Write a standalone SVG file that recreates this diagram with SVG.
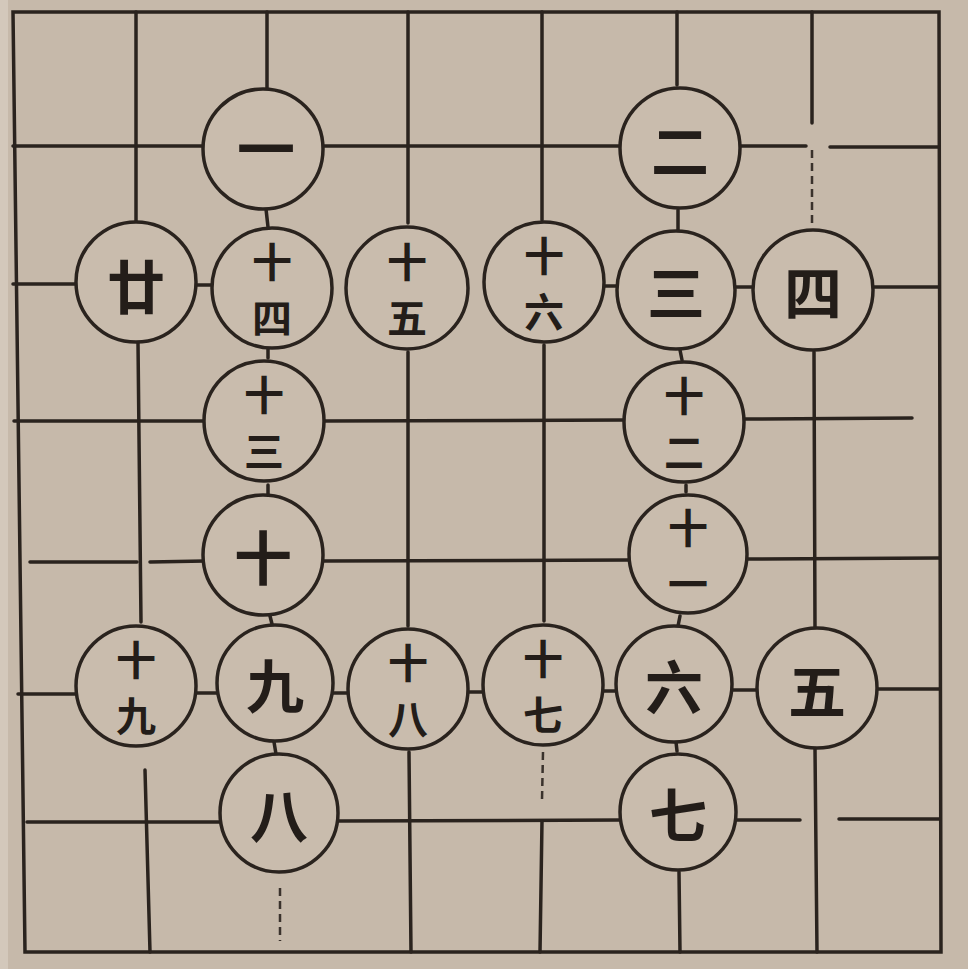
<svg xmlns="http://www.w3.org/2000/svg" width="968" height="969" viewBox="0 0 968 969">
<style>
.ln{stroke:#2a231e;stroke-width:3.5;fill:none;stroke-linecap:round}
.fa{stroke:#3a322c;stroke-width:2.5;fill:none;stroke-dasharray:8 5}
.nd circle{fill:#c9bcad;stroke:#2a231e;stroke-width:3.5}
.nd text{font-family:"Noto Sans CJK SC","Noto Sans CJK TC",sans-serif;font-weight:700;fill:#231d19;text-anchor:middle;dominant-baseline:central}
.s{font-size:58px}
.d{font-size:40px}
</style>
<rect x="0" y="0" width="968" height="969" fill="#c6b9aa"/>
<rect x="0" y="0" width="8" height="969" fill="#d3c8bb"/>
<g id="connectors">
<path class="ln" d="M13,12 L939,12 L941,952 L25,952 Z"/>
<path class="ln" d="M13,146 L806,146 M830,147 L939,147"/>
<path class="ln" d="M13,284 L80,284 M193,285 L215,285 M602,286 L619,286 M732,287 L752,287 M874,287 L939,287"/>
<path class="ln" d="M14,421 L205,421 M323,421 L624,420 M744,419 L912,418"/>
<path class="ln" d="M30,562 L137,562 M150,562 L205,561 M323,561 L629,560 M747,559 L939,558"/>
<path class="ln" d="M18,694 L78,694 M193,693 L217,693 M333,693 L350,693 M467,692 L484,692 M602,691 L617,691 M732,690 L759,690 M876,689 L939,689"/>
<path class="ln" d="M27,822 L220,822 M338,821 L621,820 M734,820 L800,820 M839,819 L939,819"/>
<path class="ln" d="M136,12 L136,222 M138,343 L141,622 M145,770 L150,952"/>
<path class="ln" d="M267,12 L267,88 M266,209 L268,227 M268,348 L268,358 M268,485 L268,494 M270,616 L272,624 M274,742 L276,754"/>
<path class="fa" d="M280,888 L280,941"/>
<path class="ln" d="M408,12 L408,223 M408,352 L408,626 M409,752 L411,952"/>
<path class="ln" d="M542,12 L542,220 M544,345 L544,621 M542,821 L540,952"/>
<path class="fa" d="M543,752 L542,800"/>
<path class="ln" d="M677,12 L677,85 M678,210 L678,230 M680,350 L682,360 M686,485 L686,492 M680,616 L678,626 M676,742 L677,751 M679,872 L680,952"/>
<path class="ln" d="M812,12 L812,123 M814,352 L815,627 M815,749 L817,952"/>
<path class="fa" d="M812,150 L812,226"/>
</g>
<g id="n1" class="nd"><circle cx="263" cy="149" r="60"/><text class="s" x="266" y="146">一</text></g>
<g id="n2" class="nd"><circle cx="680" cy="148" r="60"/><text class="s" x="680" y="148">二</text></g>
<g id="n3" class="nd"><circle cx="676" cy="290" r="59"/><text class="s" x="676" y="290">三</text></g>
<g id="n4" class="nd"><circle cx="813" cy="290" r="60"/><text class="s" x="813" y="290">四</text></g>
<g id="n5" class="nd"><circle cx="817" cy="688" r="60"/><text class="s" x="817" y="688">五</text></g>
<g id="n6" class="nd"><circle cx="674" cy="684" r="58"/><text class="s" x="674" y="684">六</text></g>
<g id="n7" class="nd"><circle cx="678" cy="812" r="58"/><text class="s" x="678" y="812">七</text></g>
<g id="n8" class="nd"><circle cx="279" cy="813" r="59"/><text class="s" x="279" y="813">八</text></g>
<g id="n9" class="nd"><circle cx="275" cy="683" r="58"/><text class="s" x="275" y="683">九</text></g>
<g id="n10" class="nd"><circle cx="263" cy="555" r="60"/><text class="s" x="263" y="555">十</text></g>
<g id="n11" class="nd"><circle cx="688" cy="554" r="59"/><text class="d" x="688" y="526">十</text><text class="d" x="688" y="582">一</text></g>
<g id="n12" class="nd"><circle cx="684" cy="422" r="60"/><text class="d" x="684" y="394">十</text><text class="d" x="684" y="450">二</text></g>
<g id="n13" class="nd"><circle cx="264" cy="421" r="60"/><text class="d" x="264" y="393">十</text><text class="d" x="264" y="449">三</text></g>
<g id="n14" class="nd"><circle cx="272" cy="288" r="60"/><text class="d" x="272" y="260">十</text><text class="d" x="272" y="316">四</text></g>
<g id="n15" class="nd"><circle cx="407" cy="288" r="61"/><text class="d" x="407" y="260">十</text><text class="d" x="407" y="316">五</text></g>
<g id="n16" class="nd"><circle cx="544" cy="282" r="60"/><text class="d" x="544" y="254">十</text><text class="d" x="544" y="310">六</text></g>
<g id="n17" class="nd"><circle cx="543" cy="685" r="60"/><text class="d" x="543" y="657">十</text><text class="d" x="543" y="713">七</text></g>
<g id="n18" class="nd"><circle cx="408" cy="689" r="60"/><text class="d" x="408" y="661">十</text><text class="d" x="408" y="717">八</text></g>
<g id="n19" class="nd"><circle cx="136" cy="686" r="60"/><text class="d" x="136" y="658">十</text><text class="d" x="136" y="714">九</text></g>
<g id="n20" class="nd"><circle cx="136" cy="282" r="60"/><text class="s" x="136" y="284">廿</text></g>
</svg>
